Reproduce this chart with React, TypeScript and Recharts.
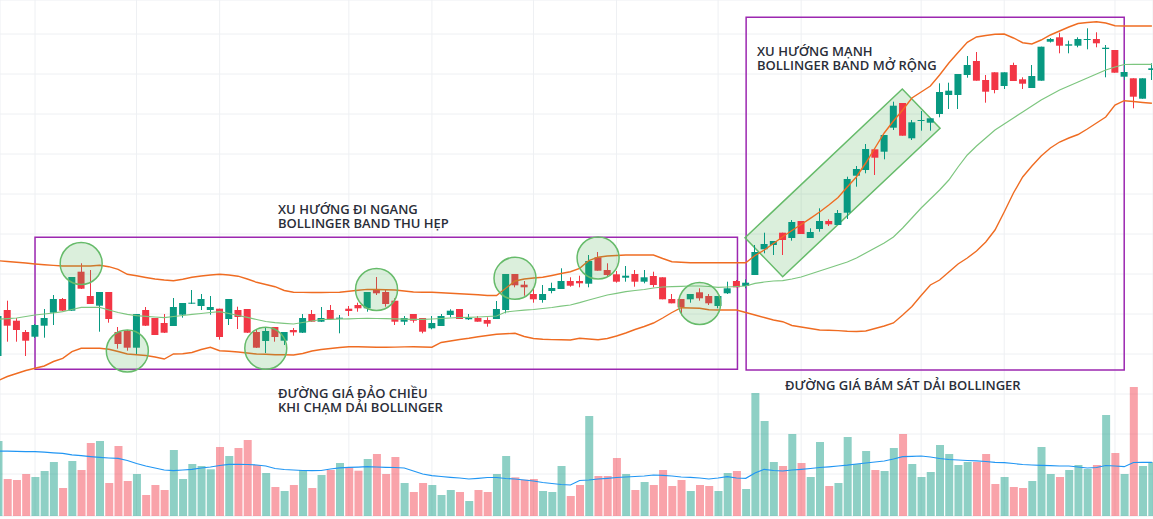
import React from 'react';
import {
  ComposedChart,
  Bar,
  Line,
  XAxis,
  YAxis,
  CartesianGrid,
  ReferenceDot,
  ReferenceArea,
  Cell,
} from 'recharts';

// OHLC per session (price, thousand VND)
const OPEN = [
  16.3, 20.9, 19.83, 18.7, 18.23, 19.33, 20.63, 22.0, 20.83, 24.73, 22.3, 21.33, 22.7, 18.7, 18.83, 17.13,
  20.9, 20.1, 19.6, 19.3, 20.43, 21.53, 21.3, 20.9, 21.03, 20.0, 20.9, 21.0, 18.7, 17.8, 19.2, 17.83,
  18.9, 18.63, 20.5, 19.73, 20.9, 20.03, 21.03, 21.4, 21.07, 22.9, 22.7, 21.83, 19.73, 20.5, 20.1, 19.07,
  19.3, 20.4, 21.0, 19.97, 20.1, 19.9, 20.0, 20.9, 24.5, 23.43, 22.5, 21.9, 22.8, 23.0, 23.8, 23.8,
  23.53, 26.17, 24.9, 24.47, 24.13, 24.5, 23.73, 24.3, 24.17, 22.0, 22.0, 21.97, 22.67, 22.3, 21.3, 22.57,
  23.8, 23.3, 24.4, 26.97, 27.4, 28.63, 28.1, 29.8, 28.1, 29.0, 29.8, 29.4, 30.63, 34.33, 34.9, 36.97,
  36.73, 39.13, 41.6, 38.07, 39.8, 39.63, 40.5, 42.4, 42.4, 44.4, 45.8, 43.9, 44.67, 43.3, 45.4, 43.97,
  43.1, 43.83, 47.73, 48.17, 47.33, 47.33, 47.9, 48.0, 47.0, 46.9, 44.23, 44.07, 42.03, 44.9,
];
const HIGH = [
  20.7, 21.83, 20.1, 18.9, 19.5, 21.0, 22.4, 22.1, 24.2, 25.57, 24.9, 22.7, 22.7, 19.2, 18.9, 20.5,
  21.2, 20.1, 20.5, 22.1, 21.6, 22.9, 22.5, 22.3, 21.03, 22.0, 21.23, 21.0, 18.9, 19.17, 19.2, 18.7,
  19.1, 20.5, 20.9, 21.2, 21.4, 20.4, 21.3, 21.63, 22.7, 24.2, 22.97, 22.07, 20.3, 20.5, 20.1, 20.3,
  20.5, 20.97, 21.0, 20.5, 20.3, 20.17, 21.8, 24.5, 24.5, 23.8, 23.07, 23.4, 23.63, 25.07, 24.17, 24.33,
  26.4, 26.7, 25.57, 24.8, 25.3, 24.9, 24.9, 24.73, 24.17, 22.5, 22.0, 22.5, 23.07, 22.5, 22.3, 23.73,
  23.9, 23.97, 27.4, 28.63, 27.8, 28.63, 29.9, 29.8, 29.07, 31.07, 29.97, 30.9, 34.23, 35.3, 37.5, 36.97,
  38.4, 41.73, 41.6, 39.9, 40.8, 40.07, 43.57, 43.63, 44.5, 46.3, 46.7, 44.4, 44.67, 44.67, 45.63, 44.17,
  45.4, 47.23, 48.1, 48.63, 47.83, 48.17, 49.07, 48.67, 47.4, 46.9, 45.9, 44.07, 44.07, 45.57,
];
const LOW = [
  15.9, 17.73, 17.73, 16.3, 18.1, 18.13, 19.4, 20.8, 20.8, 23.0, 21.5, 18.73, 19.63, 17.03, 16.83, 16.5,
  19.3, 18.4, 18.6, 19.3, 20.13, 21.5, 20.9, 20.43, 17.93, 19.4, 19.0, 18.6, 17.1, 16.6, 17.73, 17.4,
  18.33, 18.6, 19.7, 19.7, 19.9, 18.57, 20.3, 20.73, 20.73, 22.4, 21.23, 19.4, 19.4, 19.63, 18.57, 18.97,
  19.3, 20.17, 20.0, 19.9, 19.73, 19.23, 20.0, 20.57, 23.17, 22.33, 21.63, 21.63, 22.57, 23.0, 23.23, 23.17,
  23.17, 24.83, 24.23, 23.63, 23.73, 23.23, 23.57, 23.17, 21.97, 21.57, 20.37, 21.63, 21.83, 21.4, 21.07, 22.5,
  23.17, 23.07, 24.4, 26.57, 26.4, 26.4, 27.83, 28.5, 28.1, 28.73, 29.3, 29.4, 30.0, 33.23, 34.57, 34.4,
  35.97, 38.9, 38.33, 37.9, 38.83, 38.83, 40.17, 41.0, 41.0, 44.13, 43.83, 41.63, 42.57, 43.0, 43.8, 43.0,
  43.1, 43.83, 47.65, 46.57, 46.57, 47.17, 46.97, 47.17, 44.17, 44.63, 43.9, 41.07, 42.03, 43.9,
];
const CLOSE = [
  20.3, 19.33, 18.9, 17.83, 19.4, 20.1, 22.0, 20.83, 24.2, 23.03, 21.5, 22.7, 20.0, 17.5, 17.13, 20.5,
  19.33, 18.4, 18.63, 21.2, 21.6, 21.63, 22.0, 21.2, 18.2, 22.0, 20.2, 18.63, 17.13, 18.8, 18.2, 18.7,
  18.67, 20.1, 19.73, 20.1, 20.0, 20.13, 20.8, 21.07, 22.7, 22.57, 21.5, 19.73, 20.1, 19.83, 18.73, 19.6,
  20.3, 20.83, 20.0, 20.1, 19.73, 19.53, 21.0, 24.5, 23.37, 23.17, 21.97, 22.5, 23.1, 23.8, 23.33, 23.57,
  25.8, 24.83, 24.4, 23.73, 24.33, 23.73, 24.17, 23.4, 21.97, 21.57, 21.17, 22.5, 22.07, 21.57, 22.3, 23.07,
  23.17, 23.63, 26.7, 27.5, 27.8, 27.9, 29.7, 28.5, 28.7, 29.8, 29.47, 30.6, 34.0, 35.0, 37.0, 36.13,
  38.4, 41.33, 38.33, 39.67, 39.9, 40.07, 42.7, 42.83, 44.5, 45.4, 43.83, 42.73, 42.9, 44.67, 43.8, 43.53,
  44.3, 47.23, 48.0, 47.33, 47.47, 48.0, 48.0, 47.57, 47.13, 44.63, 44.7, 42.23, 44.07, 45.07,
];

// Bollinger Bands (20, 2)
const BB_UPPER = [
  25.83, 25.75, 25.68, 25.6, 25.5, 25.42, 25.36, 25.3, 25.3, 25.3, 25.3, 25.37, 25.23, 24.97, 24.47, 24.32,
  24.15, 24.0, 23.9, 23.83, 23.97, 24.17, 24.3, 24.4, 24.47, 24.4, 24.28, 24.0, 23.67, 23.45, 23.23, 22.85,
  22.68, 22.66, 22.65, 22.65, 22.66, 22.67, 22.77, 22.87, 22.96, 22.95, 22.92, 22.9, 22.8, 22.7, 22.68, 22.67,
  22.62, 22.57, 22.52, 22.48, 22.42, 22.35, 22.35, 23.07, 23.8, 24.0, 24.1, 24.17, 24.35, 24.55, 24.73, 25.07,
  25.85, 26.18, 26.3, 26.35, 26.4, 26.4, 26.4, 26.4, 26.05, 25.73, 25.67, 25.63, 25.63, 25.63, 25.63, 25.63,
  25.63, 25.63, 26.35, 26.9, 27.55, 28.23, 28.85, 29.45, 30.07, 30.7, 31.4, 32.15, 33.2, 34.23, 35.6, 37.1,
  38.6, 39.8, 40.9, 42.1, 42.7, 43.3, 44.4, 45.6, 46.65, 47.67, 48.2, 48.35, 48.47, 48.5, 48.1, 47.63,
  47.5, 47.9, 48.4, 48.8, 49.2, 49.55, 49.65, 49.73, 49.6, 49.33, 49.3, 49.3, 49.3, 49.3,
];
const BB_BASIS = [
  19.97, 20.03, 20.1, 20.25, 20.4, 20.5, 20.6, 20.73, 20.95, 21.17, 21.17, 21.17, 20.9, 20.65, 20.47, 20.33,
  20.27, 20.2, 20.13, 20.25, 20.35, 20.47, 20.55, 20.65, 20.73, 20.55, 20.35, 20.17, 19.95, 19.75, 19.63, 19.57,
  19.5, 19.65, 19.8, 19.95, 19.97, 20.0, 20.02, 20.05, 20.07, 20.05, 20.03, 20.01, 19.99, 19.97, 19.97, 20.0,
  20.05, 20.1, 20.15, 20.17, 20.2, 20.25, 20.3, 20.7, 20.8, 20.88, 20.95, 21.05, 21.15, 21.28, 21.4, 21.63,
  21.9, 22.15, 22.4, 22.57, 22.73, 22.85, 22.95, 23.1, 23.2, 23.23, 23.27, 23.3, 23.3, 23.25, 23.17, 23.2,
  23.25, 23.3, 23.57, 23.7, 23.8, 23.83, 24.0, 24.2, 24.5, 24.8, 25.1, 25.4, 25.7, 26.1, 26.6, 27.1,
  27.6, 28.2, 29.1, 30.1, 31.1, 32.0, 32.9, 33.9, 35.2, 36.4, 37.3, 38.1, 38.9, 39.5, 40.1, 40.7,
  41.3, 41.9, 42.4, 42.9, 43.3, 43.7, 44.1, 44.5, 44.9, 45.2, 45.45, 45.47, 45.47, 45.47,
];
const BB_LOWER = [
  13.85, 14.25, 14.55, 14.85, 15.07, 15.3, 15.75, 16.07, 16.73, 17.07, 17.07, 17.07, 16.97, 16.75, 16.5, 16.43,
  16.35, 16.2, 16.0, 16.5, 16.53, 16.65, 16.95, 17.17, 16.83, 16.77, 16.7, 16.6, 16.5, 16.47, 16.43, 16.42,
  16.4, 16.55, 16.8, 16.95, 17.05, 17.15, 17.23, 17.22, 17.2, 17.18, 17.17, 17.19, 17.21, 17.22, 17.2, 17.18,
  17.65, 17.8, 17.95, 18.07, 18.22, 18.35, 18.47, 18.53, 18.57, 18.25, 18.05, 17.97, 17.94, 17.92, 17.9, 18.07,
  18.0, 17.92, 18.05, 18.3, 18.6, 18.95, 19.25, 19.6, 20.1, 20.65, 21.13, 21.1, 21.07, 20.92, 20.9, 20.9,
  20.9, 20.65, 20.4, 20.15, 19.9, 19.73, 19.35, 19.2, 19.05, 18.9, 18.87, 18.84, 18.77, 18.75, 18.8, 19.05,
  19.3, 19.6, 20.4, 21.25, 22.35, 23.4, 23.9, 24.7, 25.5, 26.1, 26.8, 27.7, 28.9, 30.7, 32.6, 34.2,
  35.3, 36.3, 37.1, 37.7, 38.1, 38.45, 39.0, 39.6, 40.2, 41.4, 41.83, 41.75, 41.65, 41.57,
];

// volume (million shares) and its moving average
const VOLUME = [
  7.5, 3.7, 3.6, 4.2, 3.9, 4.5, 5.4, 2.8, 5.5, 4.6, 7.3, 7.5, 3.3, 7.0, 3.5, 4.2,
  2.1, 3.1, 2.6, 6.6, 3.7, 5.2, 5.0, 4.67, 6.9, 6.0, 6.8, 7.6, 5.1, 4.3, 2.9, 2.5,
  3.1, 4.6, 2.8, 4.1, 4.6, 5.3, 4.87, 4.53, 5.7, 6.2, 4.2, 5.9, 3.3, 2.4, 3.3, 3.1,
  2.1, 2.6, 2.4, 1.5, 2.6, 2.4, 4.2, 6.0, 3.87, 3.63, 3.7, 2.5, 2.4, 5.0, 2.0, 3.1,
  10.0, 4.0, 4.0, 5.8, 4.2, 2.6, 3.4, 3.1, 4.6, 3.0, 3.6, 2.5, 3.1, 3.0, 2.5, 4.3,
  4.5, 2.7, 12.3, 9.5, 5.4, 5.0, 8.2, 5.3, 3.9, 7.4, 3.0, 3.3, 7.9, 5.2, 6.5, 4.6,
  4.5, 6.8, 8.2, 5.2, 3.9, 4.4, 7.1, 6.2, 5.1, 5.4, 5.4, 6.2, 3.2, 3.9, 2.9, 2.8,
  3.5, 6.9, 4.2, 3.9, 4.6, 5.1, 4.7, 5.1, 10.1, 6.3, 4.2, 12.9, 5.0, 5.4,
];
const VOLUME_MA = [
  6.5, 6.48, 6.46, 6.44, 6.43, 6.38, 6.32, 6.27, 6.12, 6.04, 5.94, 5.86, 5.8, 5.76, 5.55, 5.25,
  5.0, 4.8, 4.6, 4.53, 4.6, 4.67, 4.8, 4.9, 5.05, 5.17, 5.17, 5.15, 5.1, 5.0, 4.75, 4.65,
  4.6, 4.55, 4.53, 4.55, 4.7, 4.82, 4.87, 4.89, 4.93, 4.9, 4.87, 4.85, 4.8, 4.5, 4.2, 4.03,
  3.95, 3.87, 3.8, 3.7, 3.77, 3.85, 3.85, 3.75, 3.7, 3.6, 3.5, 3.35, 3.25, 3.15, 3.1, 3.55,
  3.6, 3.7, 3.77, 3.85, 3.9, 3.95, 4.0, 4.1, 4.07, 4.0, 3.9, 3.87, 3.8, 3.7, 3.8, 3.93,
  3.8, 3.77, 4.3, 4.67, 4.55, 4.5, 4.6, 4.67, 4.75, 4.85, 4.92, 5.0, 5.08, 5.2, 5.3, 5.4,
  5.5, 5.7, 5.93, 5.97, 6.0, 5.9, 5.75, 5.65, 5.6, 5.55, 5.52, 5.45, 5.37, 5.33, 5.25, 5.15,
  5.1, 5.07, 5.04, 5.0, 5.0, 4.9, 4.8, 4.85, 5.05, 5.0, 4.93, 5.35, 5.37, 5.37,
];

// axis ticks used only by the grid
const PRICE_TICKS = [0.5, 4.5, 8.5, 12.5, 16.5, 20.5, 24.5, 28.5, 32.5, 36.5, 40.5, 44.5, 48.5];
const TIME_TICKS = [4, 15, 24, 38, 47, 58, 67, 78, 87, 100, 109, 121];

// drawings, in (session index, price)
const TOUCH_CIRCLES = [
  { i: 9, p: 25.55 },
  { i: 14, p: 16.8 },
  { i: 29, p: 17.07 },
  { i: 41, p: 22.95 },
  { i: 56, p: 24.07 },
  { i: 65, p: 26.1 },
  { i: 76, p: 21.55 },
];
const ZONES = [
  { x1: 4, x2: 80.1, y1: 14.97, y2: 28.17 },
  { x1: 81.04, x2: 122, y1: 14.9, y2: 50.17 },
];
const CHANNEL = [
  { i: 80.92, p: 28.13 },
  { i: 97.96, p: 43.0 },
  { i: 102.05, p: 39.07 },
  { i: 85.0, p: 24.23 },
];

const W = 1153;
const H = 519;
const MARGIN = { top: 0, right: 0, bottom: 3, left: 0 };
const X_DOMAIN: [number, number] = [0.206, 125.119];
const PRICE_DOMAIN: [number, number] = [0.3, 51.9];
const VOL_DOMAIN: [number, number] = [0, 51.6];

const UP = '#089981';
const DOWN = '#f23645';
const VOL_UP = 'rgba(8,153,129,0.46)';
const VOL_DOWN = 'rgba(242,54,69,0.46)';
const BAND = '#ef6c22';
const BASIS = '#7dc67f';
const MA = '#2196f3';
const PURPLE = '#9c27b0';
const MARK_FILL = 'rgba(76,175,80,0.2)';
const MARK_STROKE = '#66bb6a';

const rows = OPEN.map((o, i) => ({
  i,
  o,
  h: HIGH[i],
  l: LOW[i],
  c: CLOSE[i],
  range: [LOW[i], HIGH[i]],
  upper: BB_UPPER[i],
  basis: BB_BASIS[i],
  lower: BB_LOWER[i],
  vol: VOLUME[i],
  volMa: VOLUME_MA[i],
}));

const Candle = (props: any) => {
  const { x, y, width, height, payload } = props;
  if (x == null || y == null) return null;
  const top = Math.min(y, y + height);
  const hgt = Math.abs(height);
  const k = hgt / (payload.h - payload.l || 1);
  const yo = top + (payload.h - payload.o) * k;
  const yc = top + (payload.h - payload.c) * k;
  const color = payload.c >= payload.o ? UP : DOWN;
  const cx = Math.round(x + width / 2 - 0.5) + 0.5;
  return (
    <g>
      <line x1={cx} x2={cx} y1={top} y2={top + hgt} stroke={color} strokeWidth={1} />
      <rect x={x} y={Math.min(yo, yc)} width={width} height={Math.max(Math.abs(yo - yc), 1)} fill={color} />
    </g>
  );
};

// rotated box drawn inside the bounding ReferenceArea
const channelBox = {
  x1: Math.min(...CHANNEL.map((d) => d.i)),
  x2: Math.max(...CHANNEL.map((d) => d.i)),
  y1: Math.min(...CHANNEL.map((d) => d.p)),
  y2: Math.max(...CHANNEL.map((d) => d.p)),
};
const ChannelShape = (props: any) => {
  const { x, y, width, height } = props;
  const pts = CHANNEL.map((d) => {
    const px = x + ((d.i - channelBox.x1) / (channelBox.x2 - channelBox.x1)) * width;
    const py = y + ((channelBox.y2 - d.p) / (channelBox.y2 - channelBox.y1)) * height;
    return `${px},${py}`;
  }).join(' ');
  return <polygon points={pts} fill={MARK_FILL} stroke={MARK_STROKE} strokeWidth={1.5} />;
};

const note: React.CSSProperties = {
  position: 'absolute',
  fontFamily: '"Open Sans", sans-serif',
  fontWeight: 600,
  fontSize: 13,
  lineHeight: '14px',
  color: '#2a2e39',
  whiteSpace: 'pre',
  textShadow: '0 0 2px #fff',
};

export default function App() {
  return (
    <div style={{ position: 'absolute', left: 0, top: 0, width: W, height: H, background: '#fff', overflow: 'hidden' }}>
      <div style={{ position: 'absolute', left: 0, top: 0 }}>
        <ComposedChart width={W} height={H} data={rows} margin={MARGIN}>
          <CartesianGrid stroke="#eef0f3" />
          <XAxis dataKey="i" type="number" domain={X_DOMAIN} ticks={TIME_TICKS} allowDataOverflow hide />
          <YAxis type="number" domain={PRICE_DOMAIN} ticks={PRICE_TICKS} allowDataOverflow hide />
          <YAxis yAxisId="vol" type="number" domain={VOL_DOMAIN} allowDataOverflow hide />
          <Bar yAxisId="vol" dataKey="vol" barSize={8} isAnimationActive={false}>
            {rows.map((r) => (
              <Cell key={r.i} fill={r.c >= r.o ? VOL_UP : VOL_DOWN} />
            ))}
          </Bar>
          <Line yAxisId="vol" dataKey="volMa" stroke={MA} strokeWidth={1.2} dot={false} activeDot={false} isAnimationActive={false} />
        </ComposedChart>
      </div>
      <div style={{ position: 'absolute', left: 0, top: 0 }}>
        <ComposedChart width={W} height={H} data={rows} margin={MARGIN}>
          <XAxis dataKey="i" type="number" domain={X_DOMAIN} allowDataOverflow hide />
          <YAxis type="number" domain={PRICE_DOMAIN} allowDataOverflow hide />
          <Line dataKey="upper" stroke={BAND} strokeWidth={1.4} dot={false} activeDot={false} isAnimationActive={false} />
          <Line dataKey="lower" stroke={BAND} strokeWidth={1.4} dot={false} activeDot={false} isAnimationActive={false} />
          <Line dataKey="basis" stroke={BASIS} strokeWidth={1.2} dot={false} activeDot={false} isAnimationActive={false} />
          <Bar dataKey="range" barSize={7} shape={<Candle />} isAnimationActive={false} />
          {ZONES.map((z, k) => (
            <ReferenceArea key={k} x1={z.x1} x2={z.x2} y1={z.y1} y2={z.y2} fill="none" stroke={PURPLE} strokeWidth={1.5} />
          ))}
          <ReferenceArea
            x1={channelBox.x1}
            x2={channelBox.x2}
            y1={channelBox.y1}
            y2={channelBox.y2}
            shape={<ChannelShape />}
          />
          {TOUCH_CIRCLES.map((d, k) => (
            <ReferenceDot key={k} x={d.i} y={d.p} r={21} fill={MARK_FILL} stroke={MARK_STROKE} strokeWidth={1.5} />
          ))}
        </ComposedChart>
      </div>
      <div style={{ ...note, left: 278, top: 202 }}>{'XU HƯỚNG ĐI NGANG\nBOLLINGER BAND THU HẸP'}</div>
      <div style={{ ...note, left: 757, top: 44 }}>{'XU HƯỚNG MẠNH\nBOLLINGER BAND MỞ RỘNG'}</div>
      <div style={{ ...note, left: 278, top: 386 }}>{'ĐƯỜNG GIÁ ĐẢO CHIỀU\nKHI CHẠM DẢI BOLLINGER'}</div>
      <div style={{ ...note, left: 785, top: 378 }}>{'ĐƯỜNG GIÁ BÁM SÁT DẢI BOLLINGER'}</div>
    </div>
  );
}
